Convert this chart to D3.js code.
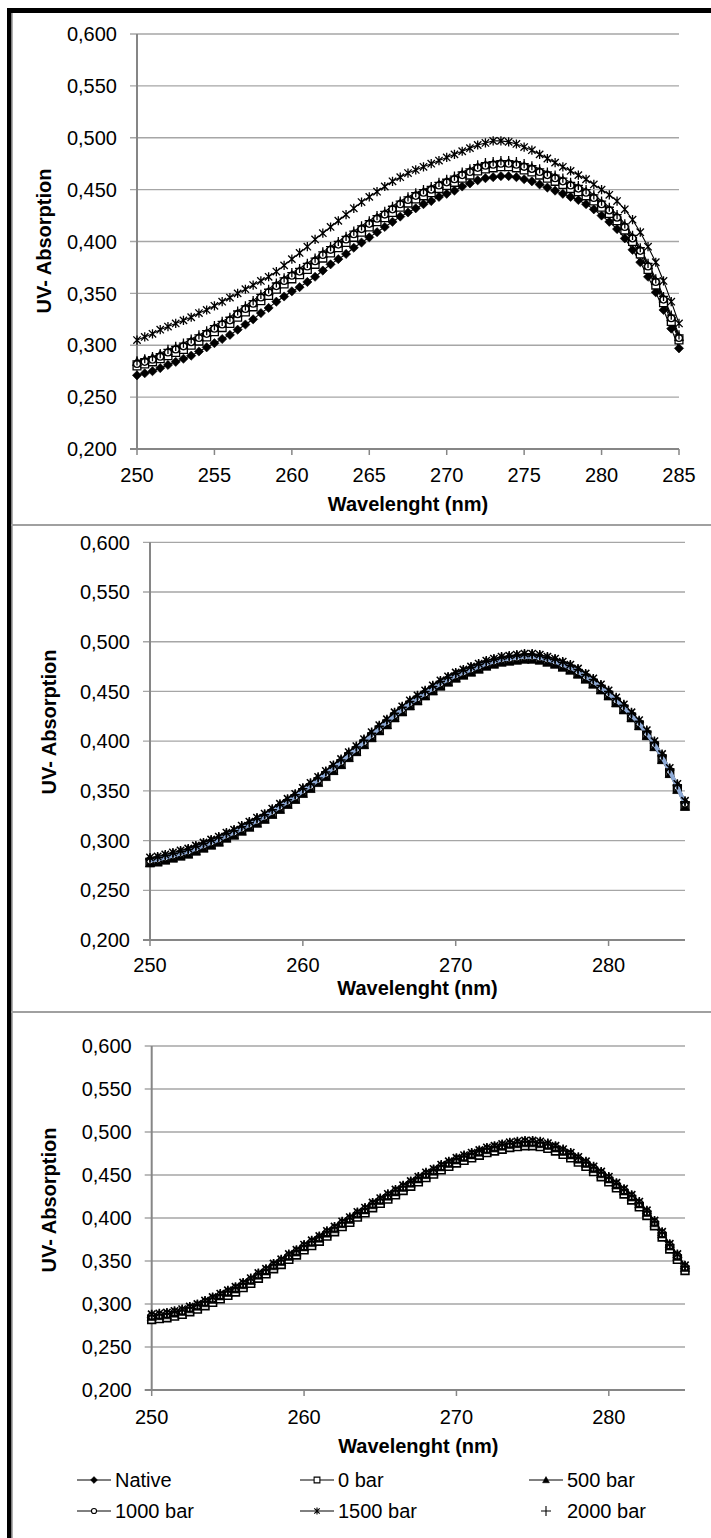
<!DOCTYPE html>
<html>
<head>
<meta charset="utf-8">
<script src="https://cdn.jsdelivr.net/npm/d3@7"></script>
<style>
  body { margin: 0; background: #fff; }
  svg { display: block; }
  text { font-family: "Liberation Sans", Arial, sans-serif; fill: #000; }
</style>
</head>
<body>
<div id="chart"></div>
<script>
// wavelengths (nm), one reading every 0.5 nm
const wavelengths = [250,250.5,251,251.5,252,252.5,253,253.5,254,254.5,255,255.5,256,256.5,257,257.5,258,258.5,259,259.5,
  260,260.5,261,261.5,262,262.5,263,263.5,264,264.5,265,265.5,266,266.5,267,267.5,268,268.5,269,269.5,
  270,270.5,271,271.5,272,272.5,273,273.5,274,274.5,275,275.5,276,276.5,277,277.5,278,278.5,279,279.5,
  280,280.5,281,281.5,282,282.5,283,283.5,284,284.5,285];

const seriesNames = ["Native", "0 bar", "500 bar", "1000 bar", "1500 bar", "2000 bar"];
const yTicks = [0.2, 0.25, 0.3, 0.35, 0.4, 0.45, 0.5, 0.55, 0.6];
const xTicksTop = [250, 255, 260, 265, 270, 275, 280, 285];
const xTicksLow = [250, 260, 270, 280];

// ---- top chart ----
const native1 = [.271,.273,.275,.278,.281,.284,.287,.290,.294,.298,.302,.306,.310,.315,.320,.325,.331,.336,.342,.347,
  .352,.356,.361,.366,.372,.378,.383,.388,.394,.399,.404,.409,.414,.419,.424,.428,.432,.436,.439,.443,
  .446,.449,.453,.456,.459,.461,.462,.463,.463,.462,.460,.458,.455,.452,.449,.446,.443,.440,.436,.431,
  .425,.419,.412,.403,.392,.380,.366,.351,.334,.316,.297];
const bar0_1 = [.280,.282,.284,.287,.290,.293,.296,.300,.304,.308,.313,.317,.321,.327,.332,.337,.343,.348,.354,.359,
  .364,.368,.373,.378,.384,.389,.394,.399,.404,.409,.414,.419,.423,.428,.433,.437,.441,.444,.447,.451,
  .454,.457,.461,.464,.468,.470,.471,.472,.472,.471,.469,.467,.464,.461,.458,.455,.451,.448,.444,.439,
  .433,.427,.420,.411,.400,.388,.373,.358,.341,.323,.305];
const bar500_1 = [.284,.286,.288,.291,.294,.297,.300,.304,.308,.312,.317,.321,.325,.331,.336,.341,.347,.352,.358,.363,
  .368,.372,.377,.382,.388,.393,.398,.403,.408,.413,.418,.423,.427,.432,.437,.441,.445,.448,.451,.455,
  .458,.461,.465,.468,.472,.474,.475,.476,.476,.475,.473,.471,.468,.465,.462,.459,.455,.452,.448,.443,
  .437,.431,.424,.415,.404,.392,.377,.362,.345,.327,.308];
const bar1000_1 = [.282,.284,.286,.289,.293,.296,.299,.303,.307,.311,.316,.320,.324,.330,.335,.340,.346,.351,.357,.362,
  .367,.371,.376,.381,.387,.392,.397,.402,.407,.412,.417,.422,.426,.431,.436,.440,.444,.447,.450,.454,
  .457,.460,.464,.467,.471,.473,.474,.475,.475,.474,.472,.470,.467,.464,.461,.458,.454,.451,.447,.442,
  .436,.430,.423,.414,.403,.391,.376,.361,.344,.326,.307];
const bar1500_1 = [.305,.308,.311,.315,.318,.321,.324,.327,.331,.334,.338,.342,.346,.350,.354,.358,.362,.366,.371,.377,
  .383,.389,.395,.402,.408,.414,.420,.426,.432,.438,.443,.448,.453,.458,.462,.466,.469,.472,.475,.478,
  .481,.484,.487,.490,.493,.495,.497,.497,.496,.494,.491,.488,.484,.480,.476,.472,.468,.464,.460,.455,
  .450,.445,.439,.431,.421,.409,.395,.380,.362,.342,.321];
const bar2000_1 = [.285,.287,.289,.292,.296,.299,.302,.306,.310,.314,.319,.323,.327,.333,.338,.343,.349,.354,.360,.365,
  .370,.374,.379,.384,.390,.395,.400,.405,.410,.415,.420,.425,.429,.434,.439,.443,.447,.450,.453,.457,
  .460,.463,.467,.470,.474,.476,.477,.478,.478,.477,.475,.473,.470,.467,.464,.461,.457,.454,.450,.445,
  .439,.433,.426,.417,.406,.394,.379,.364,.347,.329,.310];

// ---- middle chart ----
const native2 = [.281,.282,.284,.286,.288,.290,.293,.296,.299,.302,.306,.309,.313,.317,.321,.325,.330,.335,.340,.345,
  .351,.356,.362,.368,.374,.380,.387,.393,.400,.407,.414,.420,.427,.433,.439,.444,.449,.454,.459,.463,
  .467,.470,.473,.476,.479,.481,.483,.484,.485,.486,.486,.485,.483,.481,.478,.475,.471,.466,.461,.455,
  .449,.442,.435,.427,.419,.409,.398,.385,.371,.355,.338];
const bar0_2 = [.278,.279,.281,.283,.285,.287,.290,.293,.296,.299,.303,.306,.310,.314,.318,.322,.327,.332,.337,.342,
  .348,.353,.359,.365,.371,.377,.384,.390,.397,.404,.411,.417,.424,.430,.436,.441,.446,.451,.456,.460,
  .464,.467,.470,.473,.476,.478,.480,.481,.482,.483,.483,.482,.480,.478,.475,.472,.468,.463,.458,.452,
  .446,.439,.432,.424,.416,.406,.395,.382,.368,.352,.335];
const bar500_2 = [.277,.278,.280,.282,.284,.286,.289,.292,.295,.298,.302,.305,.309,.313,.317,.321,.326,.331,.336,.341,
  .347,.352,.358,.364,.370,.376,.383,.389,.396,.403,.410,.416,.423,.429,.435,.440,.445,.450,.455,.459,
  .463,.466,.469,.472,.475,.477,.479,.480,.481,.482,.482,.481,.479,.477,.474,.471,.467,.462,.457,.451,
  .445,.438,.431,.423,.415,.405,.394,.381,.367,.351,.334];
const bar1000_2 = [.280,.281,.283,.285,.287,.289,.292,.295,.298,.301,.305,.308,.312,.316,.320,.324,.329,.334,.339,.344,
  .350,.355,.361,.367,.373,.379,.386,.392,.399,.406,.413,.419,.426,.432,.438,.443,.448,.453,.458,.462,
  .466,.469,.472,.475,.478,.480,.482,.483,.484,.485,.485,.484,.482,.480,.477,.474,.470,.465,.460,.454,
  .448,.441,.434,.426,.418,.408,.397,.384,.370,.354,.337];
const bar1500_2 = [.283,.284,.286,.288,.290,.292,.295,.298,.301,.304,.308,.311,.315,.319,.323,.327,.332,.337,.342,.347,
  .353,.358,.364,.370,.376,.382,.389,.395,.402,.409,.416,.422,.429,.435,.441,.446,.451,.456,.461,.465,
  .469,.472,.475,.478,.481,.483,.485,.486,.487,.488,.488,.487,.485,.483,.480,.477,.473,.468,.463,.457,
  .451,.444,.437,.429,.421,.411,.400,.387,.373,.357,.340];
const bar2000_2 = [.282,.283,.285,.287,.289,.291,.294,.297,.300,.303,.307,.310,.314,.318,.322,.326,.331,.336,.341,.346,
  .352,.357,.363,.369,.375,.381,.388,.394,.401,.408,.415,.421,.428,.434,.440,.445,.450,.455,.460,.464,
  .468,.471,.474,.477,.480,.482,.484,.485,.486,.487,.487,.486,.484,.482,.479,.476,.472,.467,.462,.456,
  .450,.443,.436,.428,.420,.410,.399,.386,.372,.356,.339];

// ---- bottom chart ----
const native3 = [.284,.285,.286,.288,.290,.293,.296,.300,.304,.308,.312,.316,.321,.326,.332,.337,.343,.348,.354,.359,
  .365,.370,.375,.381,.386,.392,.397,.403,.408,.414,.419,.424,.429,.434,.439,.444,.449,.453,.458,.462,
  .466,.469,.472,.475,.478,.480,.482,.484,.485,.486,.486,.485,.483,.480,.476,.472,.467,.462,.456,.450,
  .444,.437,.430,.423,.415,.405,.393,.380,.366,.354,.341];
const bar0_3 = [.282,.283,.284,.286,.288,.291,.294,.298,.302,.306,.310,.314,.319,.324,.330,.335,.341,.346,.352,.357,
  .363,.368,.373,.379,.384,.390,.395,.401,.406,.412,.417,.422,.427,.432,.437,.442,.447,.451,.456,.460,
  .464,.467,.470,.473,.476,.478,.480,.482,.483,.484,.484,.483,.481,.478,.474,.470,.465,.460,.454,.448,
  .442,.435,.428,.421,.413,.403,.391,.378,.364,.352,.339];
const bar500_3 = [.285,.286,.287,.289,.291,.294,.297,.301,.305,.309,.313,.317,.322,.327,.333,.338,.344,.349,.355,.360,
  .366,.371,.376,.382,.387,.393,.398,.404,.409,.415,.420,.425,.430,.435,.440,.445,.450,.454,.459,.463,
  .467,.470,.473,.476,.479,.481,.483,.485,.486,.487,.487,.486,.484,.481,.477,.473,.468,.463,.457,.451,
  .445,.438,.431,.424,.416,.406,.394,.381,.367,.355,.342];
const bar1000_3 = [.286,.287,.288,.290,.292,.295,.298,.302,.306,.310,.314,.318,.323,.328,.334,.339,.345,.350,.356,.361,
  .367,.372,.377,.383,.388,.394,.399,.405,.410,.416,.421,.426,.431,.436,.441,.446,.451,.455,.460,.464,
  .468,.471,.474,.477,.480,.482,.484,.486,.487,.488,.488,.487,.485,.482,.478,.474,.469,.464,.458,.452,
  .446,.439,.432,.425,.417,.407,.395,.382,.368,.356,.343];
const bar1500_3 = [.288,.289,.290,.292,.294,.297,.300,.304,.308,.312,.316,.320,.325,.330,.336,.341,.347,.352,.358,.363,
  .369,.374,.379,.385,.390,.396,.401,.407,.412,.418,.423,.428,.433,.438,.443,.448,.453,.457,.462,.466,
  .470,.473,.476,.479,.482,.484,.486,.488,.489,.490,.490,.489,.487,.484,.480,.476,.471,.466,.460,.454,
  .448,.441,.434,.427,.419,.409,.397,.384,.370,.358,.345];
const bar2000_3 = [.287,.288,.289,.291,.293,.296,.299,.303,.307,.311,.315,.319,.324,.329,.335,.340,.346,.351,.357,.362,
  .368,.373,.378,.384,.389,.395,.400,.406,.411,.417,.422,.427,.432,.437,.442,.447,.452,.456,.461,.465,
  .469,.472,.475,.478,.481,.483,.485,.487,.488,.489,.489,.488,.486,.483,.479,.475,.470,.465,.459,.453,
  .447,.440,.433,.426,.418,.408,.396,.383,.369,.357,.344];

const W = 711, H = 1538;
const svg = d3.select("#chart").append("svg").attr("width", W).attr("height", H);

// marker shapes, Excel style
const markerKinds = ["diamond", "square", "triangle", "circle", "asterisk", "plus"];
function markerPath(kind, r) {
  switch (kind) {
    case "diamond": return `M0,${-r}L${r},0L0,${r}L${-r},0Z`;
    case "square": return `M${-r*0.85},${-r*0.85}h${r*1.7}v${r*1.7}h${-r*1.7}Z`;
    case "triangle": return `M0,${-r}L${r},${r*0.8}L${-r},${r*0.8}Z`;
    case "circle": return d3.symbol(d3.symbolCircle, Math.PI * (r*0.75) * (r*0.75))();
    case "asterisk": {
      const d = r * 0.8;
      return `M0,${-r}V${r}M${-d},${-d}L${d},${d}M${-d},${d}L${d},${-d}`;
    }
    case "plus": return `M${-r},0H${r}M0,${-r}V${r}`;
  }
}
function markerStyle(sel, kind, sw) {
  const filled = kind === "diamond" || kind === "triangle";
  const open = kind === "square" || kind === "circle";
  sel.attr("fill", filled ? "#000" : open ? "#fff" : "none")
     .attr("stroke", "#000")
     .attr("stroke-width", filled ? 0.6 : (sw || 1.3));
}

const fmtY = v => d3.format(".3f")(v).replace(".", ",");

const panels = [
  { top: 34, bottom: 449, left: 137, right: 679, xTicks: xTicksTop, tickY: 482, titleY: 511, yTitleX: 44, yTitleY: 241,
    data: [native1, bar0_1, bar500_1, bar1000_1, bar1500_1, bar2000_1], blue: -1, r: 4.6, sw: 1.3 },
  { top: 542.3, bottom: 940, left: 150, right: 685, xTicks: xTicksLow, tickY: 972, titleY: 995, yTitleX: 49, yTitleY: 722,
    data: [native2, bar0_2, bar500_2, bar1000_2, bar1500_2, bar2000_2], blue: 3, r: 4.6, sw: 1.5 },
  { top: 1046, bottom: 1390, left: 151.7, right: 685, xTicks: xTicksLow, tickY: 1424, titleY: 1453, yTitleX: 49, yTitleY: 1200,
    data: [native3, bar0_3, bar500_3, bar1000_3, bar1500_3, bar2000_3], blue: -1, r: 4.6, sw: 1.6 }
];

panels.forEach(p => {
  const x = d3.scaleLinear().domain([250, 285]).range([p.left, p.right]);
  const y = d3.scaleLinear().domain([0.2, 0.6]).range([p.bottom, p.top]);
  const g = svg.append("g");

  // gridlines (they also act as the left tick marks)
  g.selectAll(".grid").data(yTicks.slice(1)).enter().append("line")
    .attr("x1", p.left - 7).attr("x2", p.right)
    .attr("y1", d => y(d)).attr("y2", d => y(d))
    .attr("stroke", "#a6a6a6").attr("stroke-width", 1.3);

  // axes
  g.append("line").attr("x1", p.left - 7).attr("x2", p.right)
    .attr("y1", y(0.2)).attr("y2", y(0.2)).attr("stroke", "#868686").attr("stroke-width", 2);
  g.append("line").attr("x1", p.left).attr("x2", p.left)
    .attr("y1", y(0.6)).attr("y2", y(0.2)).attr("stroke", "#868686").attr("stroke-width", 2);
  g.selectAll(".xt").data(p.xTicks).enter().append("line")
    .attr("x1", d => x(d)).attr("x2", d => x(d))
    .attr("y1", y(0.2)).attr("y2", y(0.2) + 6)
    .attr("stroke", "#868686").attr("stroke-width", 1.5);

  // tick labels
  g.selectAll(".yl").data(yTicks).enter().append("text")
    .attr("x", p.left - 20).attr("y", d => y(d)).attr("dy", "0.36em")
    .attr("text-anchor", "end").attr("font-size", 20).text(fmtY);
  g.selectAll(".xl").data(p.xTicks).enter().append("text")
    .attr("x", d => x(d)).attr("y", p.tickY)
    .attr("text-anchor", "middle").attr("font-size", 20).text(d => d);

  // axis titles
  g.append("text").attr("x", (p.left + p.right) / 2).attr("y", p.titleY)
    .attr("text-anchor", "middle").attr("font-size", 20).attr("font-weight", "bold")
    .text("Wavelenght (nm)");
  g.append("text")
    .attr("transform", `translate(${p.yTitleX + 7},${p.yTitleY}) rotate(-90)`)
    .attr("text-anchor", "middle").attr("font-size", 20).attr("font-weight", "bold")
    .text("UV- Absorption");

  const line = d3.line().x(d => x(d[0])).y(d => y(d[1]));
  const sets = p.data.map(vals => vals.map((v, i) => [wavelengths[i], v]));

  // connecting lines first, then markers on top
  sets.forEach((pts, si) => {
    const isBlue = si === p.blue;
    if (isBlue) return;
    g.append("path").datum(pts).attr("d", line)
      .attr("fill", "none").attr("stroke", "#000").attr("stroke-width", 1.1);
  });
  sets.forEach((pts, si) => {
    const kind = markerKinds[si];
    g.selectAll(".m" + si).data(pts).enter().append("path")
      .attr("transform", d => `translate(${x(d[0])},${y(d[1])})`)
      .attr("d", markerPath(kind, p.r))
      .call(markerStyle, kind, p.sw);
    if (si === p.blue) {
      g.append("path").datum(pts).attr("d", line)
        .attr("fill", "none").attr("stroke", "#8eaad6").attr("stroke-width", 4);
    }
  });
});

// frame: thick black left and top edge, grey separators between the charts
svg.append("rect").attr("x", 7).attr("y", 8).attr("width", 4.5).attr("height", H - 8).attr("fill", "#000");
svg.append("rect").attr("x", 7).attr("y", 8).attr("width", W - 7).attr("height", 5).attr("fill", "#000");
svg.append("line").attr("x1", 12.5).attr("x2", 12.5).attr("y1", 13).attr("y2", H)
  .attr("stroke", "#b0b0b0").attr("stroke-width", 1);
[525, 1012].forEach(yy => {
  svg.append("line").attr("x1", 11).attr("x2", W).attr("y1", yy).attr("y2", yy)
    .attr("stroke", "#a0a0a0").attr("stroke-width", 2);
});

// legend
const legendCols = [77, 300, 529];
const legendRows = [1480, 1511];
const leg = svg.append("g");
seriesNames.forEach((name, i) => {
  const lx = legendCols[i % 3], ly = legendRows[Math.floor(i / 3)];
  const kind = markerKinds[i];
  if (kind !== "plus") {
    leg.append("line").attr("x1", lx).attr("x2", lx + 34).attr("y1", ly).attr("y2", ly)
      .attr("stroke", "#000").attr("stroke-width", 1);
  }
  leg.append("path").attr("transform", `translate(${lx + 17},${ly})`)
    .attr("d", markerPath(kind, kind === "plus" ? 5 : 3.4)).call(markerStyle, kind, 1.1);
  leg.append("text").attr("x", lx + 38).attr("y", ly).attr("dy", "0.36em")
    .attr("font-size", 20).text(name);
});
</script>
</body>
</html>
